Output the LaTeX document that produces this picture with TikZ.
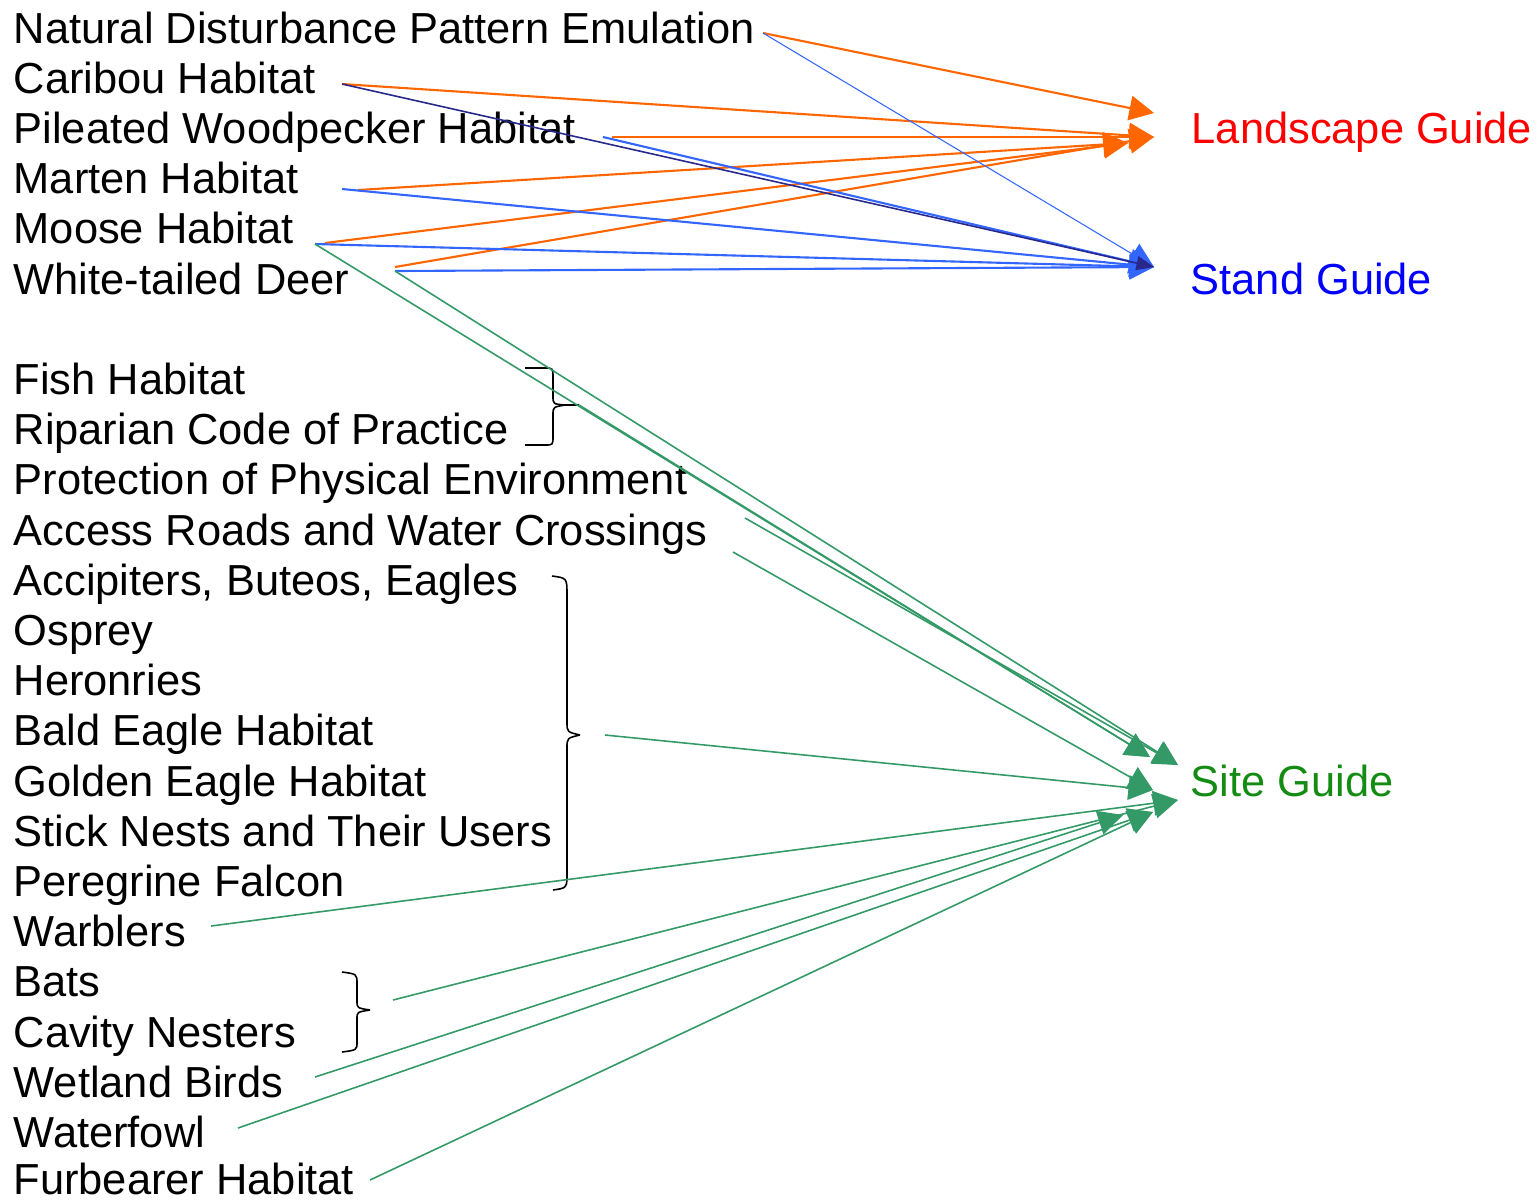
\documentclass[tikz,border=0pt]{standalone}
\usepackage{fontspec}
\setmainfont{Liberation Sans}
\usetikzlibrary{arrows.meta}

\definecolor{lsorange}{RGB}{255,102,0}
\definecolor{stblue}{RGB}{51,102,255}
\definecolor{navyline}{RGB}{40,40,140}
\definecolor{sitegreen}{RGB}{51,153,102}
\definecolor{sitetext}{RGB}{20,140,20}

\begin{document}
\begin{tikzpicture}[x=0.01cm, y=-0.01cm,
    >={Triangle[length=7pt,width=7pt]},
    item/.style = {
      anchor = base west,
      inner sep = 0pt,
      font = \fontsize{12.35}{14}\selectfont
    },
    toland/.style = {->, draw=lsorange, line width=0.6pt},
    tostand/.style = {->, draw=stblue, line width=0.6pt},
    tosite/.style = {->, draw=sitegreen, line width=0.45pt},
    bracket/.style = {draw, line width=0.45pt}
  ]
  \useasboundingbox (0,0) rectangle (1539,1199);

  \node[item] (nde)        at (13,43)     {Natural Disturbance Pattern Emulation};
  \node[item] (caribou)    at (13,93.2)   {Caribou Habitat};
  \node[item] (pileated)   at (13,143.4)  {Pileated Woodpecker Habitat};
  \node[item] (marten)     at (13,193.6)  {Marten Habitat};
  \node[item] (moose)      at (13,243.8)  {Moose Habitat};
  \node[item] (deer)       at (13,294)    {White-tailed Deer};

  \node[item] (fish)       at (13,394.4)  {Fish Habitat};
  \node[item] (riparian)   at (13,444.6)  {Riparian Code of Practice};
  \node[item] (protect)    at (13,494.8)  {Protection of Physical Environment};
  \node[item] (access)     at (13,545)    {Access Roads and Water Crossings};
  \node[item] (accip)      at (13,595.2)  {Accipiters, Buteos, Eagles};
  \node[item] (osprey)     at (13,645.4)  {Osprey};
  \node[item] (heron)      at (13,695.6)  {Heronries};
  \node[item] (baldeagle)  at (13,745.8)  {Bald Eagle Habitat};
  \node[item] (goldeagle)  at (13,796)    {Golden Eagle Habitat};
  \node[item] (sticknest)  at (13,846.2)  {Stick Nests and Their Users};
  \node[item] (peregrine)  at (13,896.4)  {Peregrine Falcon};
  \node[item] (warbler)    at (13,946.6)  {Warblers};
  \node[item] (bats)       at (13,996.8)  {Bats};
  \node[item] (cavity)     at (13,1047)   {Cavity Nesters};
  \node[item] (wetland)    at (13,1097.2) {Wetland Birds};
  \node[item] (waterfowl)  at (13,1147.4) {Waterfowl};
  \node[item] (furbearer)  at (13,1194)   {Furbearer Habitat};

  \node[item, text=red]      (landscape) at (1191,143.4) {Landscape Guide};
  \node[item, text=blue]     (stand)     at (1190,294)   {Stand Guide};
  \node[item, text=sitetext] (site)      at (1190,796)   {Site Guide};

  \coordinate (nde-r)       at (763,33);
  \coordinate (caribou-r)   at (342,84);
  \coordinate (pileated-o)  at (612,137);
  \coordinate (pileated-b)  at (603,137);
  \coordinate (marten-o)    at (358,190);
  \coordinate (marten-b)    at (342,189);
  \coordinate (moose-o)     at (325,243);
  \coordinate (moose-b)     at (315,244);
  \coordinate (deer-o)      at (395,267);
  \coordinate (deer-b)      at (395,271);
  \coordinate (fishbrace)   at (579,405);
  \coordinate (protect-r)   at (745,518);
  \coordinate (access-r)    at (733,552);
  \coordinate (accipbrace)  at (580,735);
  \coordinate (warbler-r)   at (211,926);
  \coordinate (batsbrace)   at (370,1010);
  \coordinate (wetland-r)   at (315,1077);
  \coordinate (waterfowl-r) at (238,1128);
  \coordinate (furbearer-r) at (370,1180);

  \coordinate (land-a)  at (1154,113);
  \coordinate (land-b)  at (1154,137);
  \coordinate (land-c)  at (1128,143);
  \coordinate (stand-a) at (1154,267);
  \coordinate (site-a)  at (1150,757);
  \coordinate (site-b)  at (1178,765);
  \coordinate (site-c)  at (1153,790);
  \coordinate (site-d)  at (1178,800);
  \coordinate (site-e)  at (1123,815);
  \coordinate (site-f)  at (1153,812);

  \draw[bracket] (525,368) -- (545,368) .. controls (553,368) .. (553,378)
    -- (553,396) .. controls (553,404) .. (565,405) -- (fishbrace);
  \draw[bracket] (565,405) .. controls (553,407) .. (553,415)
    -- (553,436) .. controls (553,445) .. (545,445) -- (525,445);
  \draw[bracket] (552,576) .. controls (567,578) .. (567,595)
    -- (567,722) .. controls (567,732) .. (accipbrace);
  \draw[bracket] (accipbrace) .. controls (567,738) .. (567,748)
    -- (567,873) .. controls (567,888) .. (553,890);
  \draw[bracket] (342,972) .. controls (357,974) .. (357,984)
    -- (357,1001) .. controls (357,1008) .. (batsbrace);
  \draw[bracket] (batsbrace) .. controls (357,1012) .. (357,1019)
    -- (357,1042) .. controls (357,1050) .. (342,1052);

  \draw[toland] (nde-r) -- (land-a);
  \draw[toland] (caribou-r) -- (land-b);
  \draw[toland] (pileated-o) -- (land-b);
  \draw[toland] (marten-o) -- (land-c);
  \draw[toland] (moose-o) -- (land-c);
  \draw[toland] (deer-o) -- (land-b);

  \draw[tostand, line width=0.3pt] (nde-r) -- (stand-a);
  \draw[tostand] (pileated-b) -- (stand-a);
  \draw[tostand] (marten-b) -- (stand-a);
  \draw[tostand] (moose-b) -- (stand-a);
  \draw[tostand] (deer-b) -- (stand-a);
  \draw[->, draw=navyline, line width=0.45pt, >={Triangle[length=5pt,width=4pt]}]
    (caribou-r) -- (stand-a);

  \draw[tosite] (moose-b) -- (site-a);
  \draw[tosite] (deer-b) -- (site-b);
  \draw[tosite] (fishbrace) -- (site-a);
  \draw[tosite] (protect-r) -- (site-b);
  \draw[tosite] (access-r) -- (site-c);
  \draw[tosite] (accipbrace) ++(25,0) -- (site-c);
  \draw[tosite] (warbler-r) -- (site-d);
  \draw[tosite] (batsbrace) ++(23,-10) -- (site-d);
  \draw[tosite] (wetland-r) -- (site-e);
  \draw[tosite] (waterfowl-r) -- (site-f);
  \draw[tosite] (furbearer-r) -- (site-f);
\end{tikzpicture}
\end{document}
